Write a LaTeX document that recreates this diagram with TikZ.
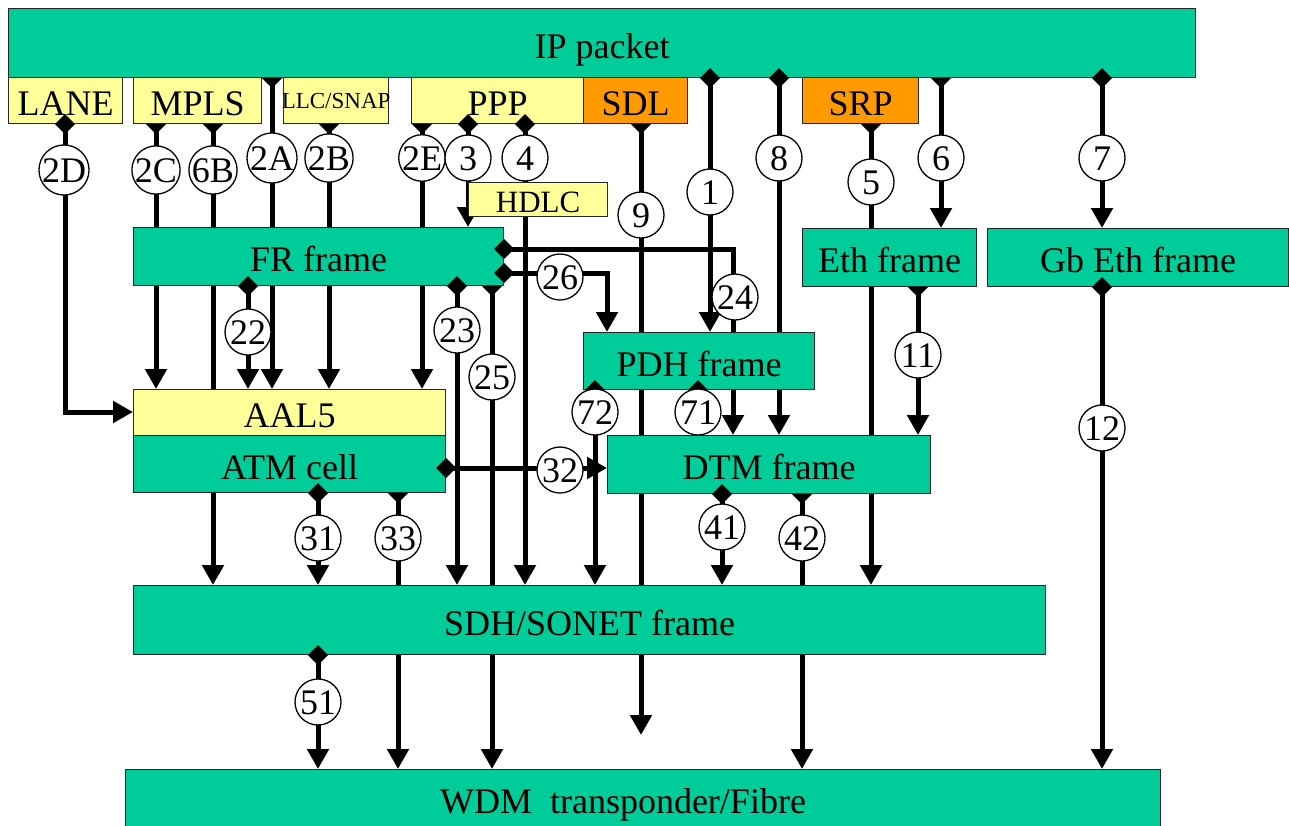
\documentclass[tikz,border=0pt]{standalone}
\usepackage{fontspec}
\setmainfont{Liberation Serif}
\usetikzlibrary{arrows.meta}
\pgfdeclarelayer{bg}
\pgfdeclarelayer{fg}
\pgfsetlayers{bg,main,fg}
\definecolor{boxgreen}{RGB}{0,204,153}
\definecolor{boxyellow}{RGB}{255,255,153}
\definecolor{boxorange}{RGB}{255,153,0}
\tikzset{
  box/.style={draw=black!85, line width=1.2pt, inner sep=0pt, anchor=north west, font=\fontsize{36}{40}\selectfont, text height=30pt, text depth=0pt},
  gbox/.style={box, fill=boxgreen},
  ybox/.style={box, fill=boxyellow},
  obox/.style={box, fill=boxorange},
  conn/.style={line width=5pt},
  arr/.style={conn, -{Triangle[width=21pt,length=20pt]}},
  num/.style={circle, draw, line width=1.3pt, fill=white, minimum size=46pt, inner sep=0pt, font=\fontsize{36}{40}\selectfont, text height=24pt, text depth=0pt},
  dmd/.pic={\fill (0,-10) -- (10,0) -- (0,10) -- (-10,0) -- cycle;},
}
\begin{document}
\begin{tikzpicture}[x=1pt,y=-1pt]
\useasboundingbox (0,0) rectangle (1289,825);
% ---------- boxes
\node[gbox, minimum width=1187pt, minimum height=69pt] (ip) at (8,8) {IP packet};
\node[ybox, minimum width=114pt, minimum height=46pt] (lane) at (8,77) {LANE};
\node[ybox, minimum width=128pt, minimum height=46pt] (mpls) at (133,77) {MPLS};
\node[ybox, minimum width=105pt, minimum height=46pt, label={[name=llct, inner sep=0pt, font=\fontsize{23}{26}\selectfont, text height=15pt, text depth=0pt]center:LLC/SNAP}] (llc) at (283,77) {};
\node[ybox, minimum width=172pt, minimum height=46pt] (ppp) at (411,77) {PPP};
\node[obox, minimum width=104pt, minimum height=46pt] (sdl) at (583,77) {SDL};
\node[obox, minimum width=116pt, minimum height=46pt] (srp) at (802,77) {SRP};
\node[ybox, minimum width=139pt, minimum height=34pt, font=\fontsize{31}{34}\selectfont, text height=25pt] (hdlc) at (468,182) {HDLC};
\node[gbox, minimum width=370pt, minimum height=58pt] (fr) at (133,227) {FR frame};
\node[gbox, minimum width=174pt, minimum height=58pt] (eth) at (802,228) {Eth frame};
\node[gbox, minimum width=301pt, minimum height=58pt] (gbeth) at (987,228) {Gb Eth frame};
\node[gbox, minimum width=231pt, minimum height=57pt] (pdh) at (583,332) {PDH frame};
\node[ybox, minimum width=312pt, minimum height=46pt] (aal5) at (133,389) {AAL5};
\node[gbox, minimum width=312pt, minimum height=57pt] (atm) at (133,435) {ATM cell};
\node[gbox, minimum width=323pt, minimum height=58pt] (dtm) at (607,435) {DTM frame};
\node[gbox, minimum width=912pt, minimum height=69pt] (sdh) at (133,585) {SDH/SONET frame};
\node[gbox, minimum width=1035pt, minimum height=80pt] (wdm) at (125,769) {};
\node[font=\fontsize{36}{40}\selectfont, anchor=base, inner sep=0pt] (wdmt) at (623,813) {WDM\ \ transponder/Fibre};
\coordinate (end9) at (641,735);
% ---------- connectors (behind the boxes)
\begin{pgfonlayer}{bg}
\draw[arr] (lane.south -| 65,0) |- (aal5.west |- 0,412);
\draw[arr] (mpls.south -| 156,0) -- (aal5.north -| 156,0);
\draw[arr] (mpls.south -| 213,0) -- (sdh.north -| 213,0);
\draw[arr] (ip.south -| 272,0) -- (aal5.north -| 272,0);
\draw[arr] (llc.south -| 329,0) -- (aal5.north -| 329,0);
\draw[arr] (ppp.south -| 422,0) -- (aal5.north -| 422,0);
\draw[arr] (ppp.south -| 468,0) -- (fr.north -| 468,0);
\draw[arr] (ppp.south -| 525,0) -- (sdh.north -| 525,0);
\draw[arr] (sdl.south -| 641,0) -- (end9);
\draw[arr] (ip.south -| 710,0) -- (pdh.north -| 710,0);
\draw[arr] (ip.south -| 779,0) -- (dtm.north -| 779,0);
\draw[arr] (srp.south -| 871,0) -- (sdh.north -| 871,0);
\draw[arr] (ip.south -| 941,0) -- (eth.north -| 941,0);
\draw[arr] (ip.south -| 1102,0) -- (gbeth.north -| 1102,0);
\draw[arr] (eth.south -| 918,0) -- (dtm.north -| 918,0);
\draw[arr] (gbeth.south -| 1102,0) -- (wdm.north -| 1102,0);
\draw[arr] (fr.south -| 248,0) -- (aal5.north -| 248,0);
\draw[arr] (fr.south -| 457,0) -- (sdh.north -| 457,0);
\draw[arr] (fr.south -| 492,0) -- (wdm.north -| 492,0);
\draw[arr] (fr.east |- 0,249) -| (dtm.north -| 733,0);
\draw[arr] (fr.east |- 0,273) -| (pdh.north -| 607,0);
\draw[arr] (pdh.south -| 595,0) -- (sdh.north -| 595,0);
\draw[conn] (pdh.south -| 698,0) -- (dtm.north -| 698,0);
\draw[arr] (atm.east |- 0,468) -- (dtm.west |- 0,468);
\draw[arr] (atm.south -| 318,0) -- (sdh.north -| 318,0);
\draw[arr] (atm.south -| 398,0) -- (wdm.north -| 398,0);
\draw[arr] (dtm.south -| 722,0) -- (sdh.north -| 722,0);
\draw[arr] (dtm.south -| 802,0) -- (wdm.north -| 802,0);
\draw[arr] (sdh.south -| 318,0) -- (wdm.north -| 318,0);
% half-hidden diamonds
\pic at (mpls.south -| 156,0) {dmd};
\pic at (mpls.south -| 213,0) {dmd};
\pic at (ip.south -| 272,0) {dmd};
\pic at (llc.south -| 329,0) {dmd};
\pic at (ppp.south -| 422,0) {dmd};
\pic at (sdl.south -| 641,0) {dmd};
\pic at (srp.south -| 871,0) {dmd};
\pic at (ip.south -| 941,0) {dmd};
\pic at (eth.south -| 918,0) {dmd};
\pic at (fr.south -| 492,0) {dmd};
\pic at (atm.south -| 398,0) {dmd};
\pic at (dtm.south -| 802,0) {dmd};
\end{pgfonlayer}
% ---------- diamonds and numbered circles on top
\begin{pgfonlayer}{fg}
\pic at (lane.south -| 65,0) {dmd};
\pic at (ppp.south -| 468,0) {dmd};
\pic at (ppp.south -| 525,0) {dmd};
\pic at (ip.south -| 710,0) {dmd};
\pic at (ip.south -| 779,0) {dmd};
\pic at (ip.south -| 1102,0) {dmd};
\pic at (fr.east |- 0,249) {dmd};
\pic at (fr.east |- 0,273) {dmd};
\pic at (fr.south -| 248,0) {dmd};
\pic at (fr.south -| 457,0) {dmd};
\pic at (gbeth.south -| 1102,0) {dmd};
\pic at (pdh.south -| 595,0) {dmd};
\pic at (pdh.south -| 698,0) {dmd};
\pic at (atm.east |- 0,468) {dmd};
\pic at (atm.south -| 318,0) {dmd};
\pic at (dtm.south -| 722,0) {dmd};
\pic at (sdh.south -| 318,0) {dmd};
\node[num] (c2D) at (64,170) {2D};
\node[num] (c2C) at (156,170) {2C};
\node[num] (c6B) at (213,170) {6B};
\node[num] (c2A) at (272,158) {2A};
\node[num] (c2B) at (329,158) {2B};
\node[num] (c2E) at (422,158) {2E};
\node[num] (c3) at (468,158) {3};
\node[num] (c4) at (525,158) {4};
\node[num] (c9) at (641,215) {9};
\node[num] (c1) at (710,192) {1};
\node[num] (c8) at (779,158) {8};
\node[num] (c5) at (871,182) {5};
\node[num] (c6) at (941,158) {6};
\node[num] (c7) at (1102,158) {7};
\node[num] (c22) at (248,332) {22};
\node[num] (c23) at (457,330) {23};
\node[num] (c25) at (492,377) {25};
\node[num] (c26) at (560,277) {26};
\node[num] (c24) at (735,297) {24};
\node[num] (c11) at (918,355) {11};
\node[num] (c12) at (1102,428) {12};
\node[num] (c72) at (595,412) {72};
\node[num] (c71) at (698,412) {71};
\node[num] (c32) at (560,470) {32};
\node[num] (c31) at (318,538) {31};
\node[num] (c33) at (398,538) {33};
\node[num] (c41) at (722,527) {41};
\node[num] (c42) at (802,538) {42};
\node[num] (c51) at (318,702) {51};
\end{pgfonlayer}
\end{tikzpicture}
\end{document}
